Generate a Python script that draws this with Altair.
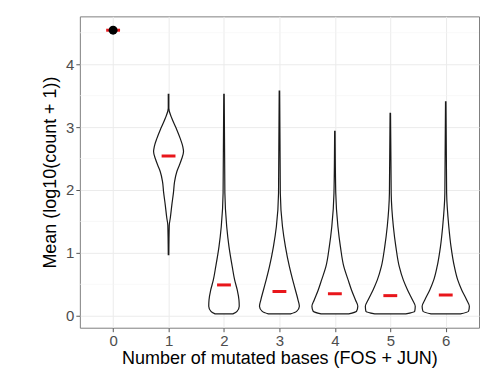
import altair as alt
import pandas as pd

# ---- data ----
v1_levels = [0.97, 1.44, 1.55, 1.76, 1.97, 2.13, 2.29, 2.40, 2.50, 2.61, 2.69, 2.82, 2.98, 3.14, 3.30, 3.52]
v1_width = [0.005, 0.013, 0.031, 0.059, 0.090, 0.108, 0.149, 0.198, 0.239, 0.270, 0.257, 0.210, 0.138, 0.059, 0.005, 0.005]

tail_levels = [0.03, 0.07, 0.15, 0.25, 0.41, 0.57, 0.78, 1.10, 1.42, 1.95]
tops = {2: 3.52, 3: 3.57, 4: 2.93, 5: 3.22, 6: 3.40}
widths = {
    2: [0.160, 0.235, 0.275, 0.270, 0.239, 0.192, 0.149, 0.090, 0.049, 0.016, 0.004],
    3: [0.200, 0.310, 0.360, 0.336, 0.288, 0.239, 0.180, 0.108, 0.055, 0.016, 0.004],
    4: [0.250, 0.390, 0.414, 0.372, 0.300, 0.239, 0.162, 0.100, 0.055, 0.016, 0.004],
    5: [0.280, 0.440, 0.450, 0.401, 0.311, 0.234, 0.162, 0.100, 0.055, 0.016, 0.004],
    6: [0.265, 0.410, 0.426, 0.378, 0.288, 0.216, 0.156, 0.095, 0.055, 0.016, 0.004],
}

mean_groups = [0, 1, 2, 3, 4, 5, 6]
means = [4.54, 2.54, 0.49, 0.386, 0.35, 0.32, 0.33]
single_group = [0]
single_value = [4.54]
minor_breaks = [0.5, 1.5, 2.5, 3.5, 4.5]

rows = []
for v, w in zip(v1_levels, v1_width):
    rows.append({"g": 1, "v": v, "w": w})
for g in [2, 3, 4, 5, 6]:
    lv = tail_levels + [tops[g]]
    for v, w in zip(lv, widths[g]):
        rows.append({"g": g, "v": v, "w": w})
vdf = pd.DataFrame(rows)
mdf = pd.DataFrame({"g": mean_groups, "m": means})
pdf = pd.DataFrame({"g": single_group, "m": single_value})
gdf = pd.DataFrame({"b": minor_breaks})

xs = alt.Scale(domain=[-0.6, 6.6], nice=False, zero=False)
ys = alt.Scale(domain=[-0.19, 4.76], nice=False, zero=False)

minor = alt.Chart(gdf).mark_rule(color="#f4f4f4", strokeWidth=0.6).encode(
    y=alt.Y("b:Q", scale=ys)
)

violins = alt.Chart(vdf).transform_calculate(
    lo="datum.g - datum.w", hi="datum.g + datum.w"
).mark_area(
    orient="horizontal", fill="white", stroke="#1a1a1a", strokeWidth=1.2,
    interpolate="monotone"
).encode(
    y=alt.Y("v:Q", scale=ys,
            axis=alt.Axis(values=[0, 1, 2, 3, 4], format="d",
                          title="Mean (log10(count + 1))", titlePadding=6)),
    x=alt.X("lo:Q", scale=xs,
            axis=alt.Axis(values=[0, 1, 2, 3, 4, 5, 6], format="d",
                          title="Number of mutated bases (FOS + JUN)", titlePadding=1)),
    x2="hi:Q",
    detail="g:N",
)

mean_bars = alt.Chart(mdf).transform_calculate(
    a="datum.g - 0.125", b="datum.g + 0.125"
).mark_rule(color="#e8161b", strokeWidth=3).encode(
    x=alt.X("a:Q", scale=xs), x2="b:Q", y=alt.Y("m:Q", scale=ys)
)

point = alt.Chart(pdf).mark_circle(color="black", opacity=1, size=80).encode(
    x=alt.X("g:Q", scale=xs), y=alt.Y("m:Q", scale=ys)
)

chart = alt.layer(minor, violins, mean_bars, point).properties(
    width=400, height=312,
    autosize="none",
    padding={"left": 72, "top": 8, "right": 1, "bottom": 46},
).configure_view(stroke="#808080", strokeWidth=1).configure_axis(
    grid=True, gridColor="#ebebeb", gridWidth=1,
    domain=False, tickColor="#555555", tickSize=4, tickWidth=1,
    labelColor="#4d4d4d", labelFontSize=15, labelFont="Liberation Sans",
    titleFont="Liberation Sans", titleFontSize=18, titleFontWeight="normal",
    titleColor="black", labelPadding=2,
)

chart.save("out.html", embed_options={"renderer": "svg", "actions": False})
